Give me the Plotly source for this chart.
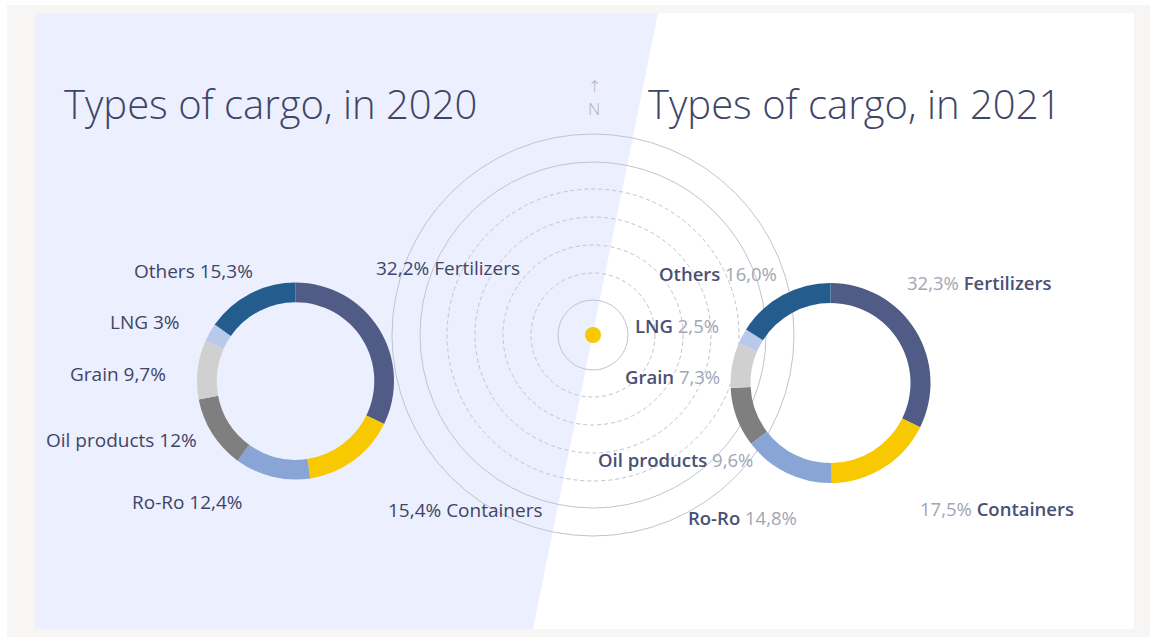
import plotly.graph_objects as go

# ---------------- data ----------------
categories = ["Fertilizers", "Containers", "Ro-Ro", "Oil products", "Grain", "LNG", "Others"]
values_2020 = [32.2, 15.4, 12.4, 12.0, 9.7, 3.0, 15.3]
values_2021 = [32.3, 17.5, 14.8, 9.6, 7.3, 2.5, 16.0]
pct_labels_2020 = ["32,2%", "15,4%", "12,4%", "12%", "9,7%", "3%", "15,3%"]
pct_labels_2021 = ["32,3%", "17,5%", "14,8%", "9,6%", "7,3%", "2,5%", "16,0%"]
titles = ["Types of cargo, in 2020", "Types of cargo, in 2021"]

# ---------------- styles / layout ----------------
W, H = 1150, 637
slice_colors = ["#505b86", "#f8c800", "#88a5d5", "#7f7f7f", "#d0d0d0", "#b8c9e9", "#245c8e"]
TEXT = "#3e4568"
NAME2 = "#4a5074"
NUM2 = "#a2a5b4"
FONT = "Open Sans"

# label anchor positions in pixels (x, y, xanchor) per category
pos_2020 = {
    "Fertilizers": (374, 268, "left"),
    "Containers": (386, 510, "left"),
    "Ro-Ro": (130, 502, "left"),
    "Oil products": (44, 440, "left"),
    "Grain": (68, 374, "left"),
    "LNG": (108, 322, "left"),
    "Others": (132, 271, "left"),
}
pos_2021 = {
    "Fertilizers": (905, 282, "left"),
    "Containers": (918, 508, "left"),
    "Ro-Ro": (686, 517, "left"),
    "Oil products": (596, 459, "left"),
    "Grain": (623, 376, "left"),
    "LNG": (633, 325, "left"),
    "Others": (657, 273, "left"),
}


def dom(cx, cy, r):
    return dict(x=[(cx - r) / W, (cx + r) / W], y=[(H - cy - r) / H, (H - cy + r) / H])


fig = go.Figure()
# empty trace to create a pixel-space cartesian subplot
fig.add_trace(go.Scatter(x=[], y=[], showlegend=False, hoverinfo="skip"))

for vals, (cx, cy, r) in [(values_2020, (295.5, 381, 98.5)), (values_2021, (830.5, 383, 100))]:
    fig.add_trace(go.Pie(
        labels=categories, values=vals, sort=False, direction="clockwise", rotation=0,
        hole=0.8, marker=dict(colors=slice_colors, line=dict(width=0)),
        textinfo="none", showlegend=False, domain=dom(cx, cy, r), hoverinfo="label+percent",
    ))

shapes = [
    dict(type="rect", x0=7, x1=W, y0=5, y1=H, fillcolor="#f7f6f4", line=dict(width=0), layer="below"),
    dict(type="rect", x0=35, x1=1134, y0=13, y1=629, fillcolor="#ffffff", line=dict(width=0), layer="below"),
    dict(type="path", path="M 35 13 L 658 13 L 533 629 L 35 629 Z", fillcolor="#eceffd",
         line=dict(width=0), layer="below"),
]
ccx, ccy = 593, 335
for rr, dash in [(35, "solid"), (62, "dash"), (90, "dash"), (118, "dash"), (146, "dash"), (173, "solid"), (201, "solid")]:
    shapes.append(dict(type="circle", x0=ccx - rr, x1=ccx + rr, y0=ccy - rr, y1=ccy + rr,
                       line=dict(color="#c0c3d0", width=1, dash="4px,3px" if dash == "dash" else "solid"),
                       layer="below"))
shapes.append(dict(type="circle", x0=ccx - 8, x1=ccx + 8, y0=ccy - 8, y1=ccy + 8,
                   fillcolor="#f8c800", line=dict(width=0), layer="below"))
for s in shapes:
    s.setdefault("xref", "x")
    s.setdefault("yref", "y")

annotations = [
    dict(x=62, y=103, text=titles[0], xanchor="left", yanchor="middle",
         font=dict(family=FONT, size=40, color=TEXT, weight=300)),
    dict(x=646, y=103, text=titles[1], xanchor="left", yanchor="middle",
         font=dict(family=FONT, size=40, color=TEXT, weight=300)),
    dict(x=594, y=86, text="↑", xanchor="center", yanchor="middle",
         font=dict(family="DejaVu Sans", size=16, color="#aab0c4", weight=300)),
    dict(x=594, y=108, text="N", xanchor="center", yanchor="middle",
         font=dict(family=FONT, size=17, color="#aab0c4", weight=300)),
]

for cat, pct in zip(categories, pct_labels_2020):
    x, y, xa = pos_2020[cat]
    txt = f"{pct} {cat}" if cat in ("Fertilizers", "Containers") else f"{cat} {pct}"
    annotations.append(dict(x=x, y=y, text=txt, xanchor=xa, yanchor="middle",
                            font=dict(family=FONT, size=19, color=TEXT)))

for cat, pct in zip(categories, pct_labels_2021):
    x, y, xa = pos_2021[cat]
    name = f"<span style='font-weight:600;color:{NAME2}'>{cat}</span>"
    num = f"<span style='color:{NUM2}'>{pct}</span>"
    txt = f"{num} {name}" if cat in ("Fertilizers", "Containers") else f"{name} {num}"
    annotations.append(dict(x=x, y=y, text=txt, xanchor=xa, yanchor="middle",
                            font=dict(family=FONT, size=18.5, color=NAME2)))

for a in annotations:
    a.update(xref="x", yref="y", showarrow=False)

fig.update_layout(
    width=W, height=H, margin=dict(l=0, r=0, t=0, b=0),
    paper_bgcolor="#ffffff", plot_bgcolor="rgba(0,0,0,0)",
    xaxis=dict(range=[0, W], visible=False, domain=[0, 1], fixedrange=True),
    yaxis=dict(range=[H, 0], visible=False, domain=[0, 1], fixedrange=True),
    shapes=shapes, annotations=annotations, showlegend=False,
)

fig.write_html("out.html")
